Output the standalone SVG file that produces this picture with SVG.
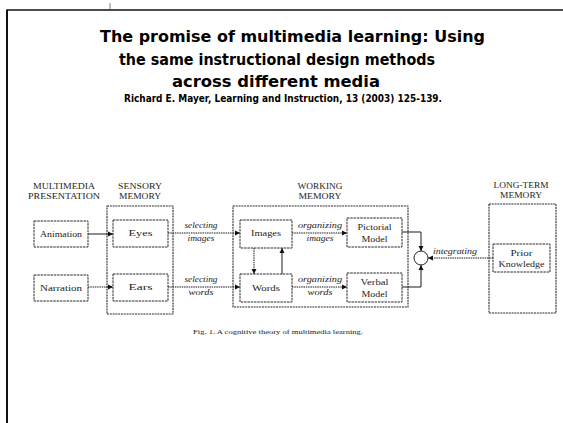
<svg xmlns="http://www.w3.org/2000/svg" width="563" height="423" viewBox="0 0 563 423">
<style>
.title{font-family:"DejaVu Sans","Liberation Sans",sans-serif;font-weight:bold;font-size:16.5px;fill:#000}
.sub{font-family:"DejaVu Sans","Liberation Sans",sans-serif;font-weight:bold;font-size:10px;fill:#000}
.hdr{font-family:"Liberation Serif",serif;font-size:7.5px;fill:#222;text-anchor:middle}
.lbl{font-family:"Liberation Serif",serif;font-size:9px;fill:#222;text-anchor:middle}
.it{font-family:"Liberation Serif",serif;font-style:italic;font-size:8px;fill:#222;text-anchor:middle}
.cap{font-family:"Liberation Serif",serif;font-size:7px;fill:#222}
.box{fill:none;stroke:#2a2a2a;stroke-width:1;stroke-dasharray:2.5 0.8}
.big{fill:none;stroke:#2a2a2a;stroke-width:1.1;stroke-dasharray:2 0.8}
.ln{fill:none;stroke:#1a1a1a;stroke-width:1}
.dl{fill:none;stroke:#1a1a1a;stroke-width:1;stroke-dasharray:1.5 0.8}
</style>
<defs>
<marker id="ah" markerWidth="6" markerHeight="6" refX="5" refY="3" orient="auto" markerUnits="userSpaceOnUse">
<path d="M0,0.5 L5,3 L0,5.5 Z" fill="#111"/>
</marker>
</defs>
<rect width="563" height="423" fill="#fff"/>
<g id="frame">
<line x1="7" y1="10" x2="563" y2="10" stroke="#111" stroke-width="1.5"/>
<line x1="7" y1="9.5" x2="7" y2="423" stroke="#111" stroke-width="2"/>
<line x1="110" y1="3" x2="110" y2="10" stroke="#444" stroke-width="0.7"/>
</g>
<g id="title">
<text class="title" x="100" y="42" textLength="385" lengthAdjust="spacingAndGlyphs">The promise of multimedia learning: Using</text>
<text class="title" x="119" y="65" textLength="316" lengthAdjust="spacingAndGlyphs">the same instructional design methods</text>
<text class="title" x="172" y="87" textLength="208" lengthAdjust="spacingAndGlyphs">across different media</text>
<text class="sub" x="124" y="102" textLength="318" lengthAdjust="spacingAndGlyphs">Richard E. Mayer, Learning and Instruction, 13 (2003) 125-139.</text>
</g>
<g id="headers">
<text class="hdr" x="64" y="189" textLength="62" lengthAdjust="spacingAndGlyphs">MULTIMEDIA</text>
<text class="hdr" x="64" y="199" textLength="72" lengthAdjust="spacingAndGlyphs">PRESENTATION</text>
<text class="hdr" x="140" y="189" textLength="44" lengthAdjust="spacingAndGlyphs">SENSORY</text>
<text class="hdr" x="140" y="199" textLength="42" lengthAdjust="spacingAndGlyphs">MEMORY</text>
<text class="hdr" x="320" y="189" textLength="45" lengthAdjust="spacingAndGlyphs">WORKING</text>
<text class="hdr" x="320" y="199" textLength="43" lengthAdjust="spacingAndGlyphs">MEMORY</text>
<text class="hdr" x="521" y="188" textLength="55" lengthAdjust="spacingAndGlyphs">LONG-TERM</text>
<text class="hdr" x="521" y="198" textLength="42" lengthAdjust="spacingAndGlyphs">MEMORY</text>
</g>
<g id="sensory-memory"><rect class="big" x="107" y="206" width="66" height="108"/></g>
<g id="working-memory"><rect class="big" x="233" y="206" width="175" height="101"/></g>
<g id="long-term-memory"><rect class="big" x="489" y="204" width="67" height="109"/></g>
<g id="animation"><rect class="box" x="34" y="221" width="54" height="26"/><text class="lbl" x="61" y="237" textLength="42" lengthAdjust="spacingAndGlyphs">Animation</text></g>
<g id="narration"><rect class="box" x="34" y="275" width="54" height="26"/><text class="lbl" x="61" y="291" textLength="42" lengthAdjust="spacingAndGlyphs">Narration</text></g>
<g id="eyes"><rect class="box" x="113" y="220" width="55" height="27"/><text class="lbl" x="140.5" y="236" textLength="24" lengthAdjust="spacingAndGlyphs">Eyes</text></g>
<g id="ears"><rect class="box" x="113" y="274" width="55" height="27"/><text class="lbl" x="140.5" y="290" textLength="24" lengthAdjust="spacingAndGlyphs">Ears</text></g>
<g id="images"><rect class="box" x="240" y="220" width="52" height="28"/><text class="lbl" x="266" y="236" textLength="30" lengthAdjust="spacingAndGlyphs">Images</text></g>
<g id="words"><rect class="box" x="240" y="274" width="52" height="28"/><text class="lbl" x="266" y="291" textLength="28" lengthAdjust="spacingAndGlyphs">Words</text></g>
<g id="pictorial-model"><rect class="box" x="347" y="218" width="55" height="29"/><text class="lbl" x="374.5" y="230" textLength="34" lengthAdjust="spacingAndGlyphs">Pictorial</text><text class="lbl" x="374.5" y="242" textLength="26" lengthAdjust="spacingAndGlyphs">Model</text></g>
<g id="verbal-model"><rect class="box" x="347" y="273" width="55" height="29"/><text class="lbl" x="374.5" y="285" textLength="28" lengthAdjust="spacingAndGlyphs">Verbal</text><text class="lbl" x="374.5" y="297" textLength="26" lengthAdjust="spacingAndGlyphs">Model</text></g>
<g id="prior-knowledge"><rect class="box" x="493" y="244" width="57" height="28"/><text class="lbl" x="521.5" y="256" textLength="22" lengthAdjust="spacingAndGlyphs">Prior</text><text class="lbl" x="521.5" y="267" textLength="46" lengthAdjust="spacingAndGlyphs">Knowledge</text></g>
<g id="integration"><circle cx="421" cy="258" r="7" fill="none" stroke="#222" stroke-width="1"/></g>
<g id="connectors">
<line class="ln" x1="88" y1="234" x2="113" y2="234" marker-end="url(#ah)"/>
<line class="dl" x1="88" y1="287" x2="113" y2="287" marker-end="url(#ah)"/>
<line class="dl" x1="168" y1="233" x2="240" y2="233" marker-end="url(#ah)"/>
<line class="dl" x1="168" y1="287" x2="240" y2="287" marker-end="url(#ah)"/>
<line class="dl" x1="292" y1="233" x2="347" y2="233" marker-end="url(#ah)"/>
<line class="dl" x1="292" y1="287" x2="347" y2="287" marker-end="url(#ah)"/>
<line class="dl" x1="254" y1="248" x2="254" y2="274" marker-end="url(#ah)"/>
<line class="ln" x1="282" y1="274" x2="282" y2="248" marker-end="url(#ah)"/>
<polyline class="ln" points="402,232 421,232 421,251" marker-end="url(#ah)"/>
<polyline class="ln" points="402,287 421,287 421,265" marker-end="url(#ah)"/>
<line class="dl" x1="493" y1="258" x2="428" y2="258" marker-end="url(#ah)"/>
<text class="it" x="201" y="228" textLength="33" lengthAdjust="spacingAndGlyphs">selecting</text>
<text class="it" x="201" y="241" textLength="27" lengthAdjust="spacingAndGlyphs">images</text>
<text class="it" x="201" y="282" textLength="33" lengthAdjust="spacingAndGlyphs">selecting</text>
<text class="it" x="201" y="295" textLength="25" lengthAdjust="spacingAndGlyphs">words</text>
<text class="it" x="320" y="228" textLength="44" lengthAdjust="spacingAndGlyphs">organizing</text>
<text class="it" x="320" y="241" textLength="27" lengthAdjust="spacingAndGlyphs">images</text>
<text class="it" x="320" y="282" textLength="44" lengthAdjust="spacingAndGlyphs">organizing</text>
<text class="it" x="320" y="295" textLength="25" lengthAdjust="spacingAndGlyphs">words</text>
<text class="it" x="455" y="254" textLength="44" lengthAdjust="spacingAndGlyphs">integrating</text>
</g>
<g id="caption">
<text class="cap" x="193" y="334" textLength="170" lengthAdjust="spacingAndGlyphs">Fig. 1. A cognitive theory of multimedia learning.</text>
</g>
</svg>
